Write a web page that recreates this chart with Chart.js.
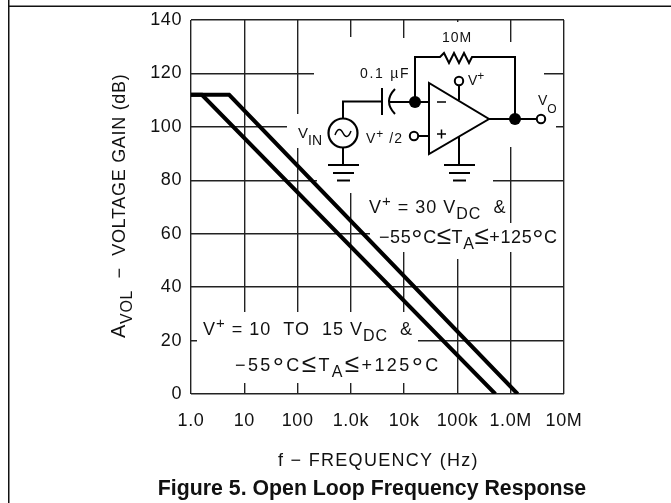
<!DOCTYPE html>
<html>
<head>
<meta charset="utf-8">
<script src="https://cdn.jsdelivr.net/npm/chart.js@4"></script>
<style>
  html, body { margin: 0; background: #fff; }
  canvas { display: block; }
</style>
</head>
<body>
<canvas id="gain" width="671" height="503" style="width:671px;height:503px"></canvas>
<script>
const decades = [1, 10, 100, 1000, 10000, 100000, 1000000, 10000000];
const freqLabels = ["1.0", "10", "100", "1.0k", "10k", "100k", "1.0M", "10M"];
const gainTicks = [0, 20, 40, 60, 80, 100, 120, 140];

// V+ = 30 VDC
const freq30 = [1, 5.2, 1350000];
const gain30 = [112, 112, 0];
// V+ = 10 to 15 VDC
const freq15 = [1, 1.6, 515000];
const gain15 = [112, 112, 0];

// gridlines are broken where the notes and the circuit sit (pixel ranges)
const vGaps = [[10, 312, 383], [100, 114, 148], [100, 312, 383], [1000, 37, 193], [1000, 312, 383],
  [10000, 38, 252], [10000, 312, 383], [100000, 22, 259], [1000000, 42, 147], [1000000, 223, 252]];
const hGaps = [[120, 314, 544], [100, 287, 556], [80, 317, 493], [60, 370, 563], [20, 197, 418]];

const sans = '"Liberation Sans", Arial, sans-serif';

// text made of runs: [string, size, dy]
function runs(ctx, x, y, parts, spacing) {
  ctx.textAlign = "left";
  ctx.textBaseline = "alphabetic";
  ctx.fillStyle = "#111";
  ctx.letterSpacing = (spacing || 0) + "px";
  parts.forEach(p => {
    ctx.font = p[1] + "px " + sans;
    ctx.fillText(p[0], x, y + (p[2] || 0));
    x += ctx.measureText(p[0]).width;
  });
  ctx.letterSpacing = "0px";
}

function seg(ctx, pts, w) {
  ctx.lineWidth = w || 2;
  ctx.beginPath();
  pts.forEach((p, i) => i ? ctx.lineTo(p[0], p[1]) : ctx.moveTo(p[0], p[1]));
  ctx.stroke();
}

function dot(ctx, x, y, r, filled) {
  ctx.beginPath();
  ctx.arc(x, y, r, 0, Math.PI * 2);
  if (filled) {
    ctx.fill();
  } else {
    ctx.lineWidth = 2;
    ctx.fillStyle = "#fff";
    ctx.fill();
    ctx.stroke();
    ctx.fillStyle = "#000";
  }
}

function ground(ctx, x) {
  seg(ctx, [[x - 15, 165], [x + 16, 165]]);
  seg(ctx, [[x - 10, 173], [x + 11, 173]]);
  seg(ctx, [[x - 6, 180.5], [x + 7, 180.5]]);
}

function circuit(ctx) {
  ctx.strokeStyle = "#000";
  ctx.fillStyle = "#000";
  ctx.lineCap = "butt";
  ctx.lineJoin = "miter";
  // source
  ctx.lineWidth = 2.2;
  ctx.beginPath();
  ctx.arc(343, 133, 14.5, 0, Math.PI * 2);
  ctx.stroke();
  ctx.lineWidth = 1.5;
  ctx.beginPath();
  ctx.moveTo(335, 135);
  ctx.bezierCurveTo(338, 127, 341, 129, 343, 133);
  ctx.bezierCurveTo(345, 137, 348, 139, 351, 131);
  ctx.stroke();
  seg(ctx, [[343, 118], [343, 101.5], [382, 101.5]]);
  seg(ctx, [[343, 148], [343, 165]]);
  ground(ctx, 343);
  // capacitor
  seg(ctx, [[382, 88], [382, 115]]);
  ctx.lineWidth = 2;
  ctx.beginPath();
  ctx.moveTo(395, 89);
  ctx.quadraticCurveTo(383, 101.5, 395, 114);
  ctx.stroke();
  seg(ctx, [[389, 102], [429, 102]]);
  // feedback with resistor
  seg(ctx, [[415, 102], [415, 57], [440, 57], [444, 53], [449, 63], [454, 53], [459, 63], [464, 53], [469, 63], [472, 57], [515, 57], [515, 119]]);
  // op amp
  seg(ctx, [[429, 83], [429, 154], [489, 119], [429, 83], [429, 90]]);
  seg(ctx, [[437, 102], [446, 102]], 1.5);
  seg(ctx, [[437, 134], [446, 134]], 1.5);
  seg(ctx, [[441.5, 129.5], [441.5, 138.5]], 1.5);
  seg(ctx, [[459, 85], [459, 100]]);
  dot(ctx, 459, 81, 4.2);
  seg(ctx, [[459, 137], [459, 165]]);
  ground(ctx, 459);
  seg(ctx, [[418, 136], [429, 136]]);
  dot(ctx, 414, 136, 4.2);
  seg(ctx, [[489, 119], [537, 119]]);
  dot(ctx, 541, 119, 4.2);
  dot(ctx, 415, 102, 6, true);
  dot(ctx, 515, 119, 6, true);
}

function notes(ctx) {
  runs(ctx, 442, 42, [["10M", 14]], 1);
  runs(ctx, 360, 78, [["0.1 ", 14], ["\u00b5F", 14]], 1.7);
  runs(ctx, 468, 85, [["V", 14], ["+", 12, -5]]);
  runs(ctx, 538, 105, [["V", 14], ["O", 12, 8]]);
  runs(ctx, 366, 143, [["V", 14], ["+", 12, -5], [" /2", 14]], 1);
  runs(ctx, 298, 138, [["V", 15], ["IN", 14, 7]]);

  runs(ctx, 369, 213, [["V", 18], ["+", 15, -7], [" = 30 ", 18], ["V", 18], ["DC", 16, 6], ["  &", 18]], 1);
  runs(ctx, 379, 243, [["\u221255", 18], ["\u00b0", 28, 6], ["C", 18], ["\u2264", 26, 1], ["T", 18], ["A", 16, 6], ["\u2264", 26, 1], ["+125", 18], ["\u00b0", 28, 6], ["C", 18]], 0.6);
  runs(ctx, 203, 335, [["V", 18], ["+", 15, -7], [" = 10  TO  15 ", 18], ["V", 18], ["DC", 16, 6], ["  &", 18]], 1);
  runs(ctx, 235, 371, [["\u221255", 18], ["\u00b0", 28, 6], ["C", 18], ["\u2264", 26, 1], ["T", 18], ["A", 16, 6], ["\u2264", 26, 1], ["+125", 18], ["\u00b0", 28, 6], ["C", 18]], 2.4);

  runs(ctx, 278, 466, [["f \u2212 FREQUENCY (Hz)", 18]], 1.3);

  ctx.save();
  ctx.translate(125, 338);
  ctx.rotate(-Math.PI / 2);
  runs(ctx, 0, 0, [["A", 20], ["VOL", 16, 7], ["  \u2212  VOLTAGE GAIN (dB)", 18]], 0.7);
  ctx.restore();

  ctx.font = "bold 21.3px " + sans;
  ctx.textAlign = "center";
  ctx.fillStyle = "#111";
  ctx.fillText("Figure 5. Open Loop Frequency Response", 372, 495);
}

const decorate = {
  id: "decorate",
  beforeDraw(chart) {
    const ctx = chart.ctx;
    ctx.letterSpacing = "0.6px";
    // page frame
    ctx.fillStyle = "#111";
    ctx.fillRect(8, 0, 1.5, 503);
    ctx.fillRect(8, 5.5, 663, 1.5);
  },
  beforeDatasetsDraw(chart) {
    const ctx = chart.ctx;
    const { x, y } = chart.scales;
    ctx.letterSpacing = "0px";
    ctx.fillStyle = "#fff";
    vGaps.forEach(g => ctx.fillRect(x.getPixelForValue(g[0]) - 2, g[1], 4, g[2] - g[1]));
    hGaps.forEach(g => ctx.fillRect(g[1], y.getPixelForValue(g[0]) - 2, g[2] - g[1], 4));
  },
  afterDatasetsDraw(chart) {
    circuit(chart.ctx);
    notes(chart.ctx);
  }
};

new Chart(document.getElementById("gain"), {
  type: "line",
  data: {
    datasets: [
      { label: "V+ = 30 VDC", data: freq30.map((f, i) => ({ x: f, y: gain30[i] })) },
      { label: "V+ = 10 TO 15 VDC", data: freq15.map((f, i) => ({ x: f, y: gain15[i] })) }
    ]
  },
  options: {
    responsive: false,
    animation: false,
    devicePixelRatio: 1,
    layout: { padding: { top: 20, right: 107, bottom: 0, left: 0 } },
    elements: {
      point: { radius: 0 },
      line: { borderColor: "#000", borderWidth: 4, tension: 0, borderCapStyle: "butt" }
    },
    plugins: { legend: { display: false }, tooltip: { enabled: false } },
    scales: {
      x: {
        type: "logarithmic",
        min: 1,
        max: 10000000,
        afterBuildTicks: s => { s.ticks = decades.map(v => ({ value: v, major: true })); },
        afterFit: s => { s.height = 109; },
        border: { display: false },
        grid: { color: "#222", lineWidth: 1.4, drawTicks: false },
        ticks: {
          autoSkip: false,
          maxRotation: 0,
          minRotation: 0,
          padding: 16,
          color: "#111",
          font: { family: sans, size: 18 },
          callback: (v) => freqLabels[decades.indexOf(v)]
        }
      },
      y: {
        min: 0,
        max: 140,
        afterBuildTicks: s => { s.ticks = gainTicks.map(v => ({ value: v })); },
        afterFit: s => { s.width = 191; },
        border: { display: false },
        grid: { color: "#222", lineWidth: 1.4, drawTicks: false },
        ticks: {
          padding: 9,
          color: "#111",
          font: { family: sans, size: 18 }
        }
      }
    }
  },
  plugins: [decorate]
});
</script>
</body>
</html>
